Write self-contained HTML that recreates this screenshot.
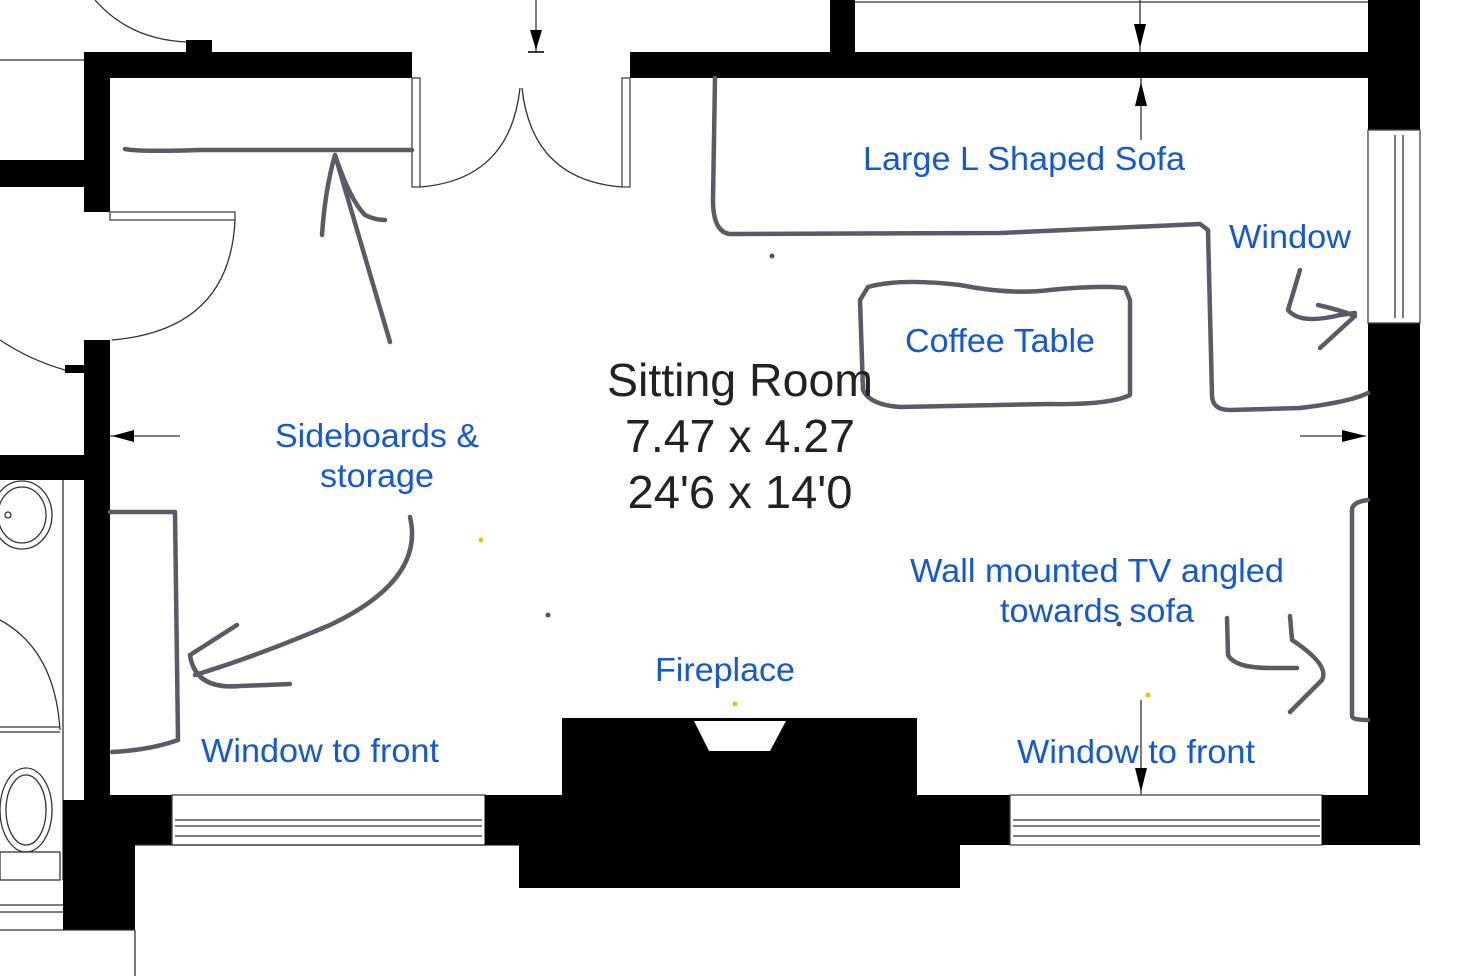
<!DOCTYPE html>
<html><head><style>
html,body{margin:0;padding:0;background:#fff;width:1470px;height:976px;overflow:hidden}
svg{display:block}
.b{font-family:"Liberation Sans",sans-serif;fill:#1458d4;font-size:33px}
.k{font-family:"Liberation Sans",sans-serif;fill:#222;font-size:46px}
.h{fill:none;stroke:#5b5b68;stroke-width:4.5;stroke-linecap:round;stroke-linejoin:round}
.t{fill:none;stroke:#333;stroke-width:1.3}
</style></head><body>
<svg width="1470" height="976" viewBox="0 0 1470 976">
<rect width="1470" height="976" fill="#fff"/>
<path class="t" d="M95 0 Q130 40 188 42"/>
<rect x="186" y="40" width="26" height="14" fill="#000"/>
<line class="t" x1="0" y1="60" x2="84" y2="60"/>
<rect x="84" y="52" width="328" height="26" fill="#000"/>
<rect x="84" y="52" width="26" height="160" fill="#000"/>
<rect x="0" y="160" width="84" height="27" fill="#000"/>
<rect x="630" y="52" width="790" height="26" fill="#000"/>
<rect x="830" y="0" width="25" height="52" fill="#000"/>
<rect x="1368" y="0" width="52" height="130" fill="#000"/>
<rect x="1368" y="323" width="52" height="522" fill="#000"/>
<line class="t" x1="855" y1="2" x2="1368" y2="2"/>
<rect x="1368" y="130" width="52" height="193" fill="#fff" stroke="#444" stroke-width="1.3"/>
<line class="t" x1="1395" y1="135" x2="1395" y2="318"/>
<line class="t" x1="1403" y1="135" x2="1403" y2="318"/>
<rect x="412" y="78" width="8" height="109" fill="#fff" stroke="#444" stroke-width="1.3"/>
<rect x="622" y="78" width="8" height="109" fill="#fff" stroke="#444" stroke-width="1.3"/>
<path class="t" d="M420 187 Q510 180 520 88"/>
<path class="t" d="M622 187 Q532 180 522 88"/>
<line class="t" x1="536" y1="0" x2="536" y2="52"/>
<polygon points="530,30 542,30 536,50" fill="#000"/>
<line x1="528" y1="52" x2="544" y2="52" stroke="#000" stroke-width="1.5"/>
<line class="t" x1="1140" y1="0" x2="1140" y2="52"/>
<polygon points="1134,24 1146,24 1140,48" fill="#000"/>
<line class="t" x1="1141" y1="78" x2="1141" y2="140"/>
<polygon points="1135,106 1147,106 1141,82" fill="#000"/>
<line class="t" x1="110" y1="436" x2="180" y2="436"/>
<polygon points="112,436 134,430 134,442" fill="#000"/>
<line class="t" x1="1300" y1="436" x2="1366" y2="436"/>
<polygon points="1366,436 1342,430 1342,442" fill="#000"/>
<line class="t" x1="1141" y1="700" x2="1141" y2="795"/>
<polygon points="1135,768 1147,768 1141,792" fill="#000"/>
<rect x="110" y="212" width="125" height="8" fill="#fff" stroke="#444" stroke-width="1.3"/>
<path class="t" d="M235 220 Q230 330 112 340"/>
<rect x="84" y="340" width="26" height="505" fill="#000"/>
<path class="t" d="M0 340 Q30 360 65 370"/>
<rect x="65" y="365" width="20" height="8" fill="#000"/>
<rect x="0" y="455" width="84" height="25" fill="#000"/>
<line class="t" x1="63" y1="480" x2="63" y2="880"/>
<ellipse class="t" cx="22" cy="515" rx="30" ry="34"/>
<ellipse class="t" cx="22" cy="515" rx="24" ry="28"/>
<circle class="t" cx="8" cy="515" r="3"/>
<path class="t" d="M0 620 Q55 650 60 730"/>
<line class="t" x1="0" y1="727" x2="60" y2="727"/>
<line class="t" x1="0" y1="732" x2="60" y2="732"/>
<ellipse class="t" cx="26" cy="810" rx="26" ry="42"/>
<ellipse class="t" cx="26" cy="810" rx="20" ry="35"/>
<rect class="t" x="0" y="852" width="60" height="28"/>
<rect x="63" y="800" width="72" height="130" fill="#000"/>
<line class="t" x1="0" y1="905" x2="63" y2="905"/>
<line class="t" x1="0" y1="912" x2="63" y2="912"/>
<line class="t" x1="0" y1="930" x2="135" y2="930"/>
<line class="t" x1="135" y1="930" x2="135" y2="976"/>
<rect x="110" y="795" width="62" height="50" fill="#000"/>
<rect x="172" y="795" width="313" height="50" fill="#fff" stroke="#444" stroke-width="1.3"/>
<line class="t" x1="175" y1="820" x2="482" y2="820"/>
<line class="t" x1="175" y1="826" x2="482" y2="826"/>
<line class="t" x1="175" y1="836" x2="482" y2="836"/>
<line class="t" x1="135" y1="845" x2="519" y2="845"/>
<rect x="485" y="795" width="525" height="50" fill="#000"/>
<rect x="519" y="845" width="441" height="43" fill="#000"/>
<rect x="562" y="718" width="355" height="80" fill="#000"/>
<polygon points="694,721 786,721 770,751 709,751" fill="#fff"/>
<rect x="1010" y="795" width="312" height="50" fill="#fff" stroke="#444" stroke-width="1.3"/>
<line class="t" x1="1013" y1="820" x2="1320" y2="820"/>
<line class="t" x1="1013" y1="826" x2="1320" y2="826"/>
<line class="t" x1="1013" y1="836" x2="1320" y2="836"/>
<rect x="1322" y="795" width="98" height="50" fill="#000"/>
<path class="h" d="M125 149 Q140 152 200 150 L412 150"/>
<path class="h" d="M390 342 L335 155 Q325 190 322 235 M335 155 Q350 200 365 215 Q375 220 385 220"/>
<path class="h" d="M715 78 L713 200 Q713 232 730 234 L1000 233 L1200 224 L1208 230 L1212 395 Q1212 410 1230 410 L1300 408 Q1350 402 1368 393"/>
<path class="h" d="M868 287 Q900 278 960 285 Q1010 295 1050 290 Q1100 285 1125 288 L1130 300 L1130 395 Q1110 405 1050 404 L900 407 Q870 405 863 390 L860 300 Z"/>
<path class="h" d="M1300 270 L1288 310 Q1300 325 1340 315 L1355 313 M1318 305 Q1340 310 1355 316 L1320 348"/>
<path class="h" d="M410 517 Q425 580 330 625 Q260 655 195 675 M237 625 L190 655 Q195 690 240 686 L290 684"/>
<path class="h" d="M110 512 L175 512 L178 740 Q150 750 112 752"/>
<path class="h" d="M1227 618 L1228 655 Q1235 668 1270 668 L1297 668 M1290 616 L1292 640 Q1330 665 1322 680 L1290 712"/>
<path class="h" d="M1368 500 Q1352 502 1352 510 L1352 716 Q1352 720 1368 720"/>
<circle cx="772" cy="256" r="2.5" fill="#555"/>
<circle cx="548" cy="615" r="2.5" fill="#555"/>
<circle cx="1119" cy="624" r="2.5" fill="#555"/>
<circle cx="481" cy="540" r="2.5" fill="#e6c800"/>
<circle cx="735" cy="704" r="2.5" fill="#e6c800"/>
<circle cx="1148" cy="695" r="2.5" fill="#e6c800"/>
<text class="k" x="740" y="396" text-anchor="middle" textLength="266" lengthAdjust="spacingAndGlyphs">Sitting Room</text>
<text class="k" x="740" y="452" text-anchor="middle" textLength="230" lengthAdjust="spacingAndGlyphs">7.47 x 4.27</text>
<text class="k" x="740" y="508" text-anchor="middle" textLength="225" lengthAdjust="spacingAndGlyphs">24'6 x 14'0</text>
<text class="b" x="1024" y="170" text-anchor="middle" textLength="322" lengthAdjust="spacingAndGlyphs">Large L Shaped Sofa</text>
<text class="b" x="1290" y="248" text-anchor="middle" textLength="122" lengthAdjust="spacingAndGlyphs">Window</text>
<text class="b" x="1000" y="352" text-anchor="middle" textLength="190" lengthAdjust="spacingAndGlyphs">Coffee Table</text>
<text class="b" x="377" y="447" text-anchor="middle" textLength="204" lengthAdjust="spacingAndGlyphs">Sideboards &amp;</text>
<text class="b" x="377" y="487" text-anchor="middle" textLength="114" lengthAdjust="spacingAndGlyphs">storage</text>
<text class="b" x="1097" y="582" text-anchor="middle" textLength="374" lengthAdjust="spacingAndGlyphs">Wall mounted TV angled</text>
<text class="b" x="1097" y="622" text-anchor="middle" textLength="194" lengthAdjust="spacingAndGlyphs">towards sofa</text>
<text class="b" x="725" y="681" text-anchor="middle" textLength="140" lengthAdjust="spacingAndGlyphs">Fireplace</text>
<text class="b" x="320" y="762" text-anchor="middle" textLength="238" lengthAdjust="spacingAndGlyphs">Window to front</text>
<text class="b" x="1136" y="763" text-anchor="middle" textLength="238" lengthAdjust="spacingAndGlyphs">Window to front</text>
</svg>
</body></html>
